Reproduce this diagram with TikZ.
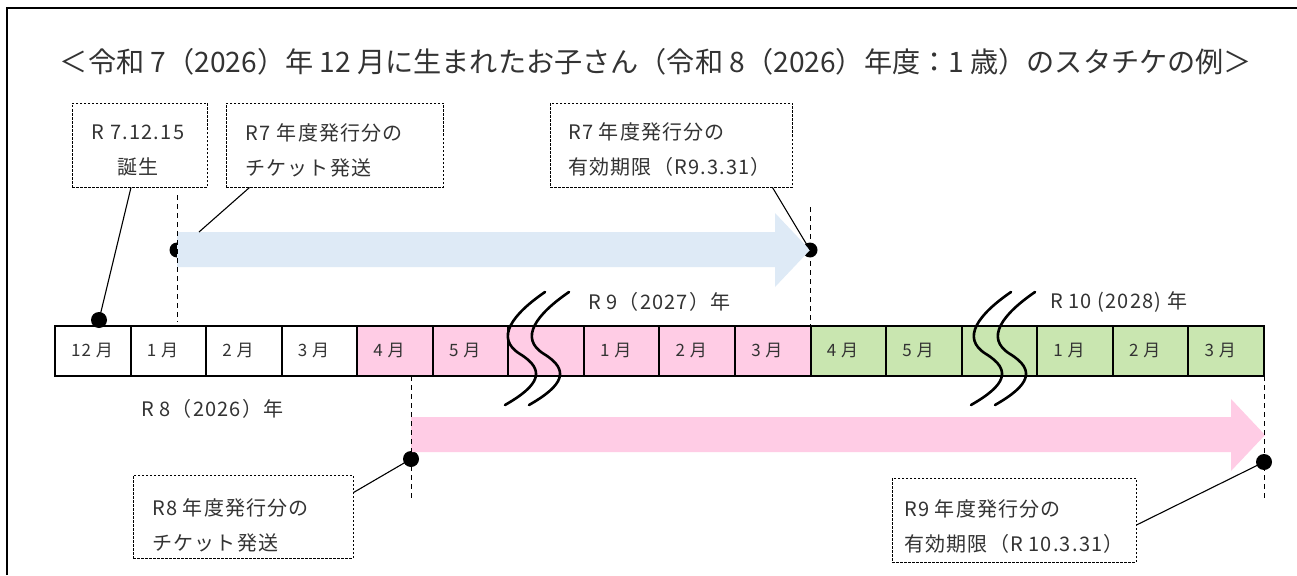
\documentclass[tikz,border=0pt]{standalone}
\usepackage{fontspec}
\setmainfont{Noto Sans CJK JP}
\usepackage{graphicx}
\definecolor{bluearr}{HTML}{DEEAF6}
\definecolor{pinkc}{HTML}{FFCCE5}
\definecolor{greenc}{HTML}{C9E6B0}
\definecolor{txt}{HTML}{333333}
\begin{document}
\begin{tikzpicture}[x=1pt,y=-1pt,
  tbox/.style={draw=black, dashed, dash pattern=on 2.5pt off 1.5pt, line width=0.9pt, inner sep=0pt},
  btext/.style={align=left, inner sep=0pt, text=txt, font=\fontsize{20}{35}\selectfont\addfontfeatures{LetterSpace=6}},
  cell/.style={draw=black, line width=2pt, minimum width=75.56pt, minimum height=50pt, inner sep=0pt, outer sep=0pt},
  mlabel/.style={anchor=west, inner sep=0pt, text=txt, font=\fontsize{17}{18}\selectfont\addfontfeatures{LetterSpace=6}},
  ylabel/.style={anchor=west, inner sep=0pt, text=txt, font=\fontsize{20}{22}\selectfont\addfontfeatures{LetterSpace=6}},
  dot/.style={circle, fill=black, inner sep=0pt, minimum size=16pt},
  leader/.style={line width=1.1pt, draw=black},
  vdash/.style={dashed, dash pattern=on 5pt off 4pt, line width=1pt},
  brk/.style={line width=2.6pt, line cap=round}]
\useasboundingbox (0,0) rectangle (1297,575);
\fill[white] (0,0) rectangle (1297,575);
% frame
\draw[line width=1.2pt] (7,575) -- (7,8) -- (1297,8);
% title
\node[text=txt, inner sep=0pt] (title) at (656,62) {\resizebox{1192pt}{!}{\fontsize{26}{30}\selectfont ＜令和 7（2026）年 12 月に生まれたお子さん（令和 8（2026）年度：1 歳）のスタチケの例＞}};
% timeline cells
\foreach \i/\m/\c in {0/12\ 月/white,1/1\ 月/white,2/2\ 月/white,3/3\ 月/white,4/4\ 月/pinkc,5/5\ 月/pinkc,6//pinkc,7/1\ 月/pinkc,8/2\ 月/pinkc,9/3\ 月/pinkc,10/4\ 月/greenc,11/5\ 月/greenc,12//greenc,13/1\ 月/greenc,14/2\ 月/greenc,15/3\ 月/greenc}{
  \node[cell, fill=\c] (c\i) at ({55+75.56*\i+37.78},351) {};
  \node[mlabel] (m\i) at ({55+75.56*\i+16},350) {\m};
}
% break marks
\foreach \dx in {0,466}{
  \foreach \o in {0,24}{
    \draw[brk] ({545+\dx+\o},292) .. controls ({513+\dx+\o},314) and ({494+\dx+\o},338) .. ({520+\dx+\o},354) .. controls ({546+\dx+\o},370) and ({540+\dx+\o},385) .. ({505+\dx+\o},405);
  }
}
% dots
\node[dot] (d1) at (99,320) {};
\node[dot, minimum size=15pt] (d2) at (177,250) {};
\node[dot, minimum size=15pt] (d3) at (810,250) {};
\node[dot] (d4) at (411,459) {};
\node[dot] (d5) at (1264,462) {};
% arrows
\fill[bluearr] (177,232) -- (775,232) -- (775,213) -- (810,250) -- (775,287) -- (775,267) -- (177,267) -- cycle;
\fill[pinkc] (411,417) -- (1231,417) -- (1231,399) -- (1265,435) -- (1231,471) -- (1231,452) -- (411,452) -- cycle;
% dashed verticals
\draw[vdash] (177,195) -- (177,322);
\draw[vdash] (810,207) -- (810,326);
\draw[vdash] (411,376) -- (411,500);
\draw[vdash] (1264,376) -- (1264,498);
% boxes
\node[tbox, minimum width=135pt, minimum height=84pt] (bA) at (139.5,145) {};
\node[btext, align=center] (tA) at (138,150) {R 7.12.15\\誕生};
\node[tbox, minimum width=217pt, minimum height=84pt] (bB) at (334.5,145) {};
\node[btext, anchor=west] (tB) at (245,150) {R7\,\,年度発行分の\\チケット発送};
\node[tbox, minimum width=242pt, minimum height=84pt] (bC) at (671,145) {};
\node[btext, anchor=west] (tC) at (568,150) {R7 年度発行分の\\有効期限（R9.3.31）};
\node[tbox, minimum width=220pt, minimum height=83pt] (bD) at (243,516.5) {};
\node[btext, anchor=west] (tD) at (152,525) {R8 年度発行分の\\チケット発送};
\node[tbox, minimum width=244pt, minimum height=84pt] (bE) at (1014,520) {};
\node[btext, anchor=west] (tE) at (904,527) {R9 年度発行分の\\有効期限（R 10.3.31）};
% year labels
\node[ylabel] (y8) at (141,409) {R 8（2026）年};
\node[ylabel] (y9) at (588,302) {R 9（2027）年};
\node[ylabel] (y10) at (1050,302) {R 10 (2028) 年};
% leaders
\coordinate (arrB) at (199,232);
\draw[leader] ([xshift=-8.5pt]bA.south) -- (d1.center);
\draw[leader] ([xshift=24pt]bB.south west) -- (arrB);
\draw[leader] ([xshift=-20pt]bC.south east) -- (d3.center);
\draw[leader] ([yshift=-18pt]bD.north east) -- (d4.center);
\draw[leader] ([yshift=-5pt]bE.east) -- (d5.center);
\end{tikzpicture}
\end{document}
